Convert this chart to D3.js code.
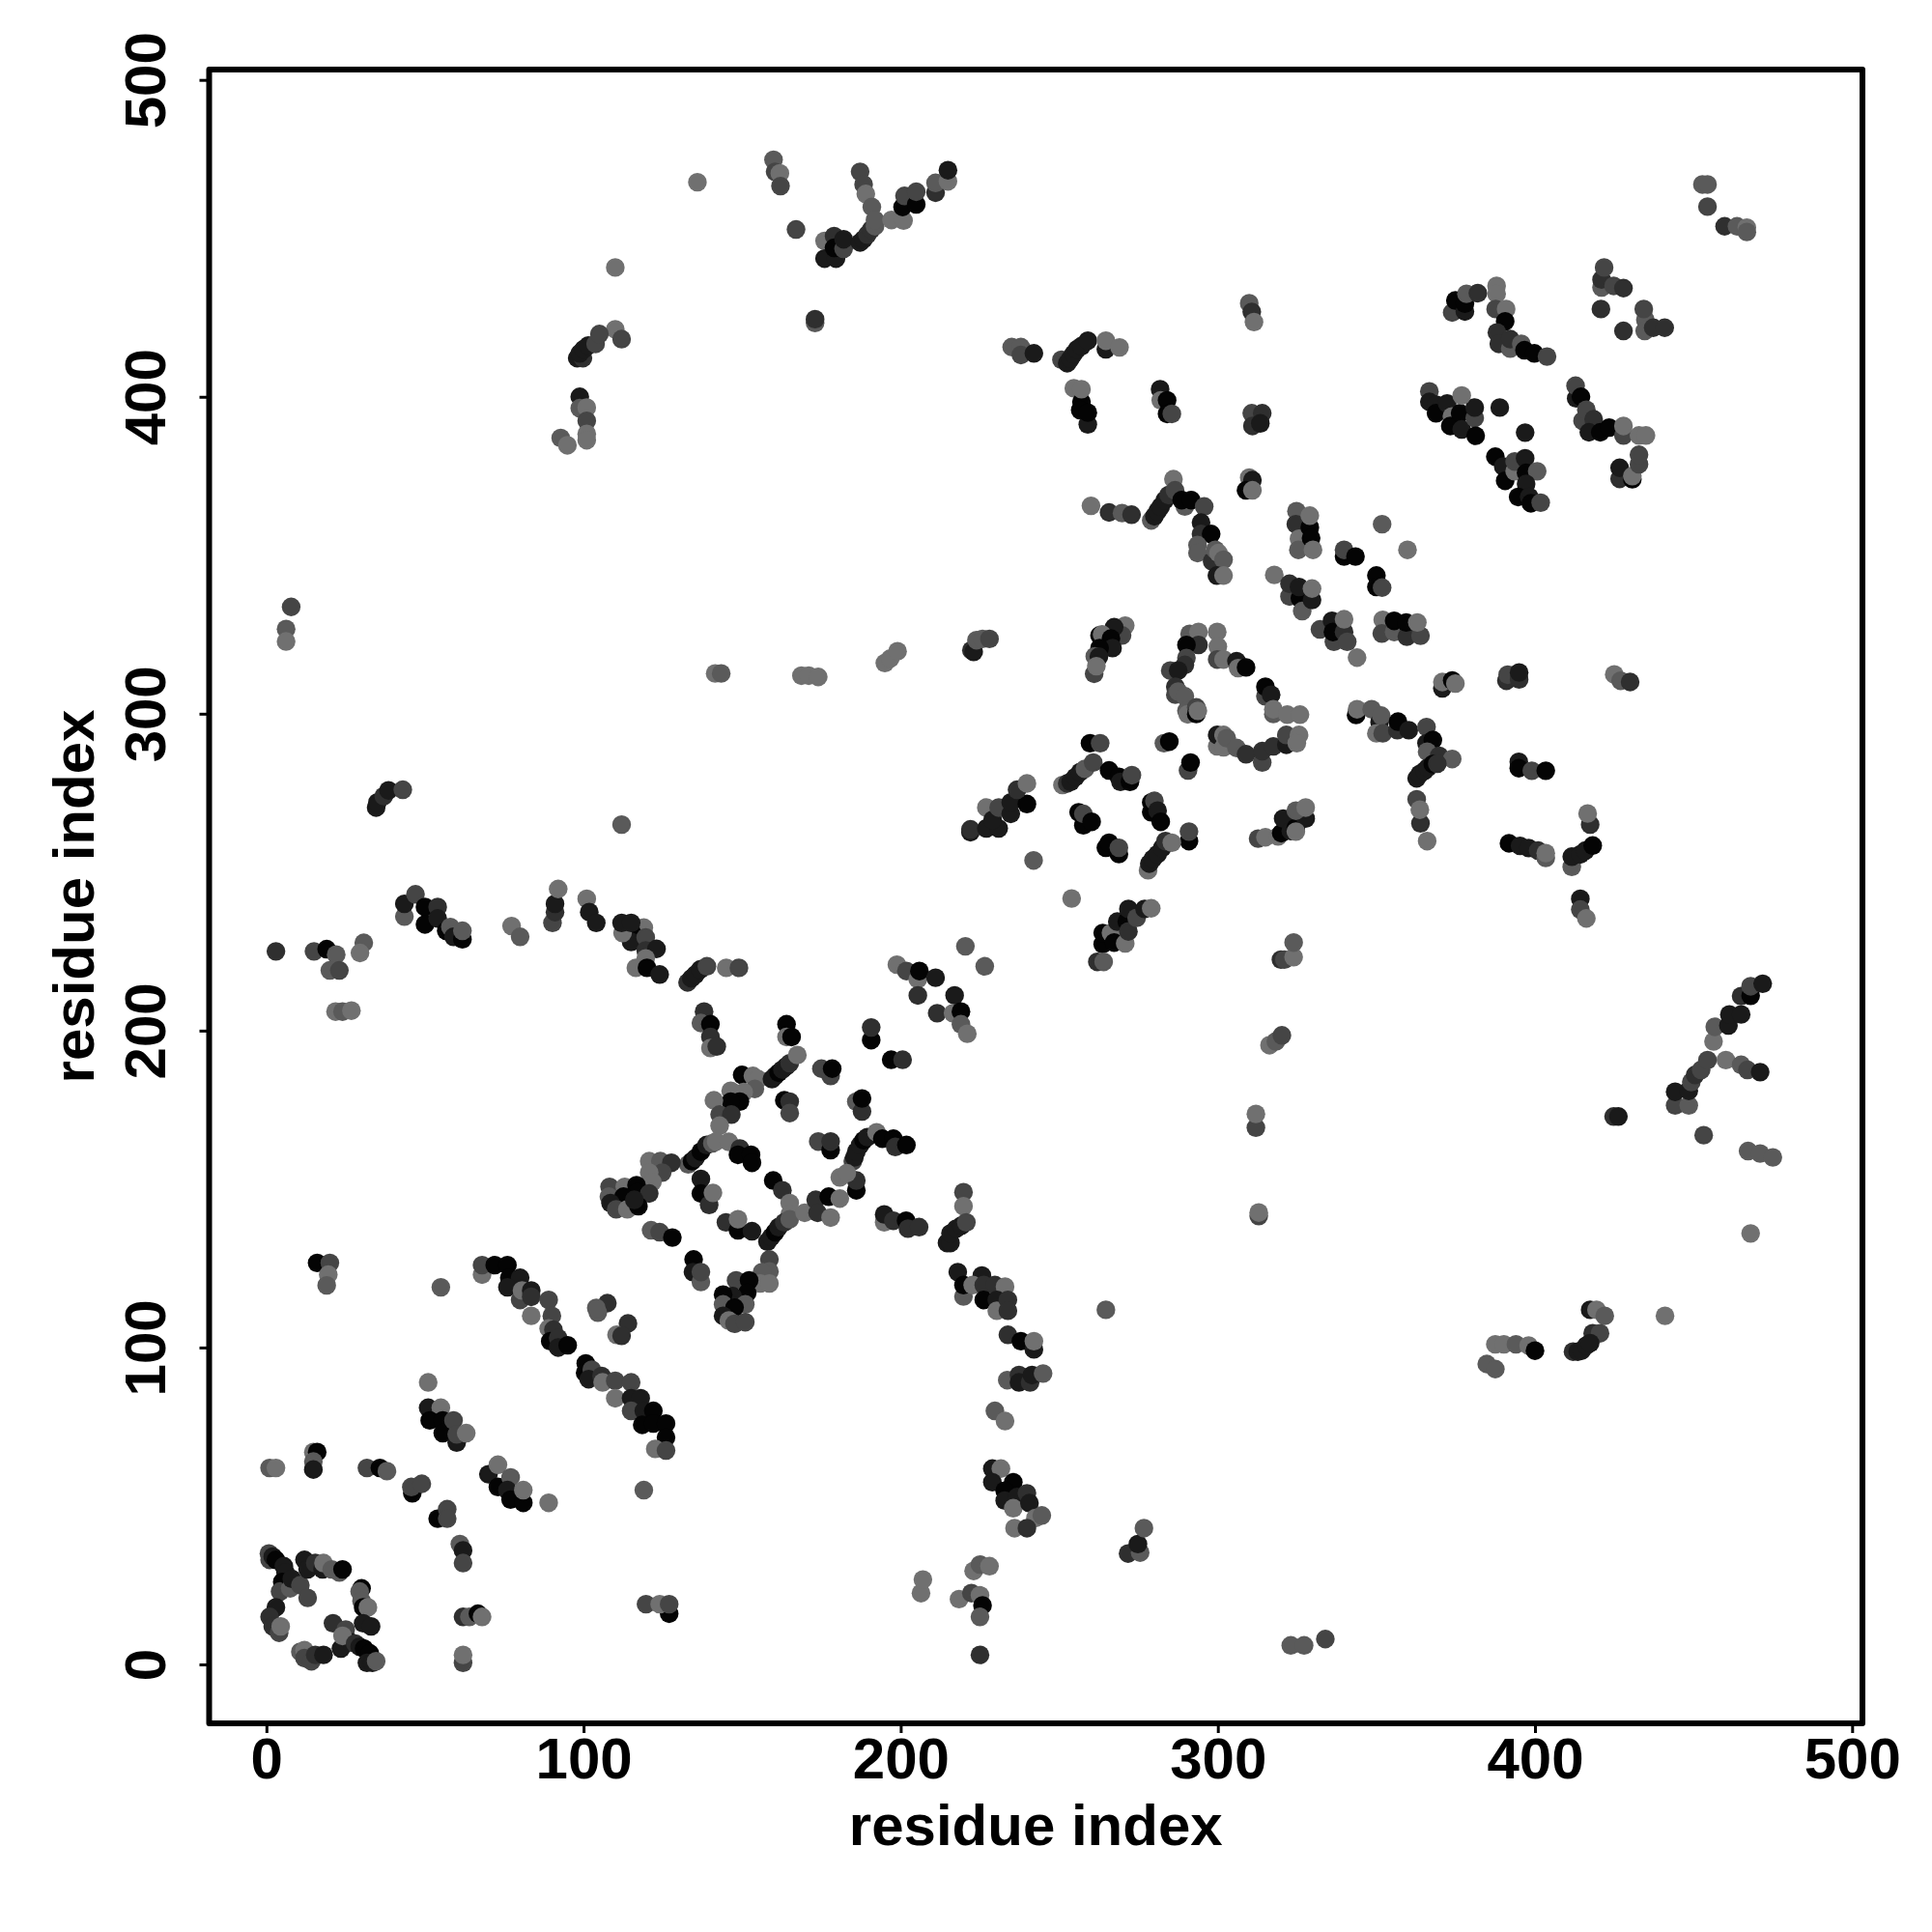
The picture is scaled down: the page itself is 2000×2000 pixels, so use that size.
<!DOCTYPE html>
<html><head><meta charset="utf-8">
<script src="https://cdn.jsdelivr.net/npm/d3@7"></script>
<style>html,body{margin:0;background:#fff}</style></head><body><div id="chart"></div>
<script>
// each contact: [residue index x, residue index y, shade level 0 (darkest) .. 5 (lightest)]
const ticks=[0,100,200,300,400,500];
const xTitle="residue index", yTitle="residue index";
const contactsLowerLeft=[
[0.8,35,3],[1,33,3],[2,34,1],[3,33,0],[5.5,31,1],[6,29,1],[5,26,0],[4.3,23,3],[7.8,26,0],[7.5,24,4],[8,27,1],[10.7,25,3],[13,21,3],
[12,33,1],[13,30,1],[15.4,32,2],[17.7,30,1],[18,32,5],[20.6,30,4],[23,29,4],[24,30,0],
[30,24,0],[29.4,23,4],[30,20,4],[30.5,18,0],[32,18,5],[30.5,13,1],[33,12,1],[21,13,2],
[25,11,3],[23.5,5,1],[26.5,7,1],[24,9,5],[28,6.6,2],[29.4,5.6,1],[30.8,5,0],[32.6,3.5,0],[31.7,0.5,1],[33.4,0.5,1],[34.6,1,4],
[3,18,1],[1,15,2],[2,12,2],[4,10,3],[4.5,12,5],
[10.7,4,4],[12,4.5,5],[12,2,3],[14.2,1,3],[15.4,3,2],[18,3,1],
[14.8,67,5],[16,67,0],[14.8,64,4],[14.8,61.5,1],[1,62,4],[3,62,5],
[31.7,62,3],[35.8,62,0],[38,61,4],[46,54,0],[45.7,56,3],[49,57,3],[54,46,0],[57,49,3],[57,46,3],
[61,38,4],[62,36,1],[62,32,3],[62,15,2],[64,15,4],[66.7,16,0],[68,15,5],[62,0.5,3],[62,3,5],
[127,16,0],[119.7,19,3],[124,19,5],[127,19,3],[119,55,4],[89,51,5],
[51,89,5],[51,81,1],[55,81,5],[51.5,77,0],[55.6,77,0],[55.6,73,0],[59,77,3],[60,70,1],[60,72.6,3],[63,73,5],
[70,60,1],[73,63,5],[73,56,0],[77,59,4],[76,55,1],[77,52,0],[81,51,0],[81,55,5],
[16,126.7,0],[20,126.7,3],[19.5,123,5],[19,119.6,4],[55,119,4]];
const contactsLongDiagonal=[
[68,123,5],[68,126,3],[72,126,0],[76,126,0],[76.6,122,0],[80,122,1],[76,119,1],[80,115,3],[80.6,118,5],[83.5,118,1],[83.5,116,2],[83.5,110,5],[89,115,3],[90,110,3],[89,106,5],[90.5,105.6,2],[89.5,102,0],[92,103,2],[92,100,1],[95,100.7,0],
[100.7,95,0],[100.5,92,0],[102.6,93,3],[101.6,90,1],[105.7,91,2],[106,89,5],[110,89.5,3],[115,89,3],[110,84,5],[115,84,1],[118,84,1],[115,80,3],[119,80,1],[122,80,0],[118.5,75.6,0],[122,76,0],[126,76,0],[126,71.6,0],[122.6,68,5],[126,67.5,3],
[107.5,114,2],[104.5,111,4],[104,112.5,4],[114,107.6,2],[110.4,104,5],[112,103.7,2]];
const contactsDiamond=[
[138,206,2],[137,202.4,4],[140,202,0],[140,198,2],[140,194.5,5],[142,195,2],[164,202,0],[164,198,5],[165.6,198,0],
[150,186,0],[153.4,185.7,5],[155,184.7,5],[154,181.6,4],[159.4,184.7,1],[160.4,185.7,1],[161.5,186.7,0],[162.7,187.7,1],[163.9,188.7,1],[165,189.7,2],[167.4,192.3,5],
[150.5,180.6,5],[146.4,181,5],[149.3,177.6,0],[146.4,177.6,0],[141.1,178,5],[142.9,173.5,3],[146.6,173.5,2],[142.9,170,5],
[175,188,3],[177.9,185.7,3],[178.4,188,0],[163.3,178,0],[165,177.6,2],[165,174,3],[190.7,197,0],[190.7,201,2],[197,190.8,0],[200.6,190.8,2],[186,177.6,4],[187.8,174.5,2],[187.8,178.6,0],[174,165,3],[177.9,162.3,0],[177.9,165,2],
[184.9,158.8,3],[185.4,160,1],[186,161.8,1],[187.2,163.9,1],[188.3,165.4,0],[189.5,166.4,1],[192.4,167.9,5],[194.2,165.9,0],[197.7,165.9,0],[198.3,163.3,2],[201.8,163.9,0],
[133,157.8,4],[134.2,158.8,0],[135.3,159.8,1],[137,161.8,0],[138.8,163.9,1],[140.6,164.4,4],[141.8,165,5],[145.8,164.9,5],[149.3,162.8,2],[148.7,160.8,0],[152.8,160.8,0],[153.1,158.3,0],
[120.7,158.8,5],[124.2,158.8,4],[127.7,158.3,2],[124.8,155.2,3],[120.7,155.2,5],[121.7,152.2,5],
[108.2,150.7,3],[108,147.6,4],[113,150.7,5],[116.7,151.2,0],[117,149,0],[112.6,147.6,0],[120.7,148.6,2],[108.5,145.6,1],[110.3,143.6,3],[113.8,143.6,5],[117.3,144.6,0],[116,146.6,1],
[137,153.2,1],[137,148.6,0],[139.6,145,2],[140.8,148.8,5],[159.8,152.7,0],[162.7,149.6,2],[165,145.6,5],[165,142,5],
[158,133.4,1],[159.2,134.9,1],[160.4,136.4,0],[161.5,138,1],[163.3,139.5,2],[165,140.5,4],[169.7,142.5,5],[173.2,146.6,2],[173.8,142.5,2],[177.3,147.6,0],[177.9,141,5],[180.8,147,5],[186,149.6,0],[186,152.7,2],[180.8,153.7,5],[183,155,5],
[194.8,139.5,5],[194.8,142,1],[197.7,140,2],[201.7,140,0],[202.3,137.5,2],[205.8,138,2],
[144.9,139.5,2],[148.7,137,0],[153.1,136.7,1],[148.7,140.5,5],[121.3,137,4],[124,136.4,3],[128,134.7,0],[134.7,127.8,0],[134.5,123.8,1],[137,120.7,4],[137,123.8,3],
[158.6,127.8,3],[158.6,124,4],[156.3,123.8,4],[155.7,120.2,5],[158.6,120.2,5],[148.1,121.2,3],[152.2,121.2,0],[151.6,117.2,0],[147,116.2,1],[144,116.7,0],[151,113.6,4],[144,113.6,4],[147.6,112.6,0],[144,110,1],[145.8,108.5,5],[147.6,107.5,3],[151,108,3],
[219.8,149,3],[219.8,144.6,5],[214.6,133,1],[215.7,133,1],[215.7,136,1],[217.5,137.5,1],[219.2,138.5,1],[220.7,139.5,3],
[218,123.8,1],[219.8,116.1,4],[219.8,119.7,0],[225.6,122.7,1],[222.7,119.7,5],[226.2,119.7,2],[229.7,119.7,2],[232.9,119.2,5],[226.2,115,0],[230.3,115,1],[230.3,111.6,5],[233.8,115,2],[233.8,111.6,2],
[233.8,104,2],[237.9,102,0],[242,99.4,1],[242,102,5],[233.6,89.7,4],[237.3,91.3,2],[237.3,89,1],[240.8,89,2],[241.4,91.3,1],[244.9,91.8,4],[229.7,80,4],[232.9,76.8,5]];
const contactsBandAt220=[
[119,232.5,5],[115.5,230.4,0],[115,228,1],[119.6,229.4,3],[119.6,225.3,2],[123,225.8,1],[119.6,222.8,5],[116.5,219.8,5],[120,219.8,0],[124,217.7,1],
[132.8,215.2,2],[134,216.5,1],[135.3,217.7,1],[136.8,219.3,1],[138.9,220.3,3],[145,219.8,5],[149,219.8,3],
[198.8,220.8,5],[201.8,218.8,3],[205.4,216.2,5],[205.9,218.8,0],[211,216.7,1],[205.4,211.1,2],[217,211.1,1],[211.5,205.5,2],[216.5,205.5,5],[219,206,0],[219,202,4],[221,199,5],[220.4,226.6,4],[226.5,220.3,4],
[3,225,2],[15,225,3],[19,225.7,0],[22,224,4],[20,219,4],[23,219,3],[30.7,227.7,4],[29.5,224.5,5],[21.8,206,5],[24,206,4],[26.8,206.3,5],
[43.5,236,4],[43.5,240,1],[47,243,3],[50,239,0],[50,233.5,0],[54,239,2],[54,235.4,1],[56.7,231.5,0],[58,232.7,4],[59,229.6,1],[61.8,228.8,0],[61.8,231.5,4],
[77.3,233,5],[80,229.6,4],[90.2,234,3],[91,237.4,2],[91,240,1],[92,244.7,5],[101,241.6,5],[101.8,237.4,1],[104,234,1],[112.3,230.8,5],[112,234,1],[115,234,1],
[7.8,333.7,3],[6.2,326.7,4],[6.2,322.8,5],[34.6,270.4,1],[35,272,1],[37,274,2],[38.5,275.8,1],[43,276,3],[112,265,4],
[141.5,312.7,5],[143.4,312.7,4],[168.7,312,5],[171,312,5],[174,311.6,5],[195,316,5],[196.7,317.4,5],[199,319.7,5],[222.3,320,2],[223,319.5,1],[223.9,323.2,4],[225.8,323.6,4],[228,323.6,3]];
const contactsTop=[
[135.9,467.7,5],[159.9,474.8,4],[160.4,471,3],[161.9,470.5,5],[162.1,466.5,3],[167,452.8,3],[173,423.3,4],[173,424.5,2],
[176,449.2,5],[176,443.6,1],[179,450.7,2],[179.6,443.6,1],[179,447,0],[182,446.7,3],[182,449.7,1],
[187.2,471,3],[188.3,467,3],[189,464,5],[190.9,459.9,4],[187.2,448.7,1],[188.3,449.7,1],[189.5,451.2,2],[190.7,452.8,2],[191.9,453.8,4],[191.9,455.8,4],
[197.1,455.8,5],[200.9,455.6,5],[200.6,459.9,0],[201.2,463.4,3],[204.9,460.7,0],[204.9,464.7,3],[211,464.4,2],[211,467.5,4],[214.9,468,5],[214.9,471.5,1],
[110,440.8,5],[110,421.3,5],[112,418.2,3],[98,412.2,1],[99.8,412.2,2],[98.8,413.7,1],[100,415,1],[101.5,416.2,1],[103.8,416.7,3],[105,419.8,3],
[98.8,400,1],[98.8,396.4,4],[101,396.6,5],[101,392.4,3],[101,388.3,5],[101,386.3,5],[92.8,387,4],[94.9,384.7,5],
[235,415.7,4],[237.9,415.7,4],[237.9,413.2,3],[242,413.7,1],[250.7,411.7,3],[452.8,467,4],[454.4,467,4],[454.4,460,3],[459.8,453.8,2],[463.7,453.8,4],[466.8,453.4,5],[466.8,452,4]];
const contactsUpperMiddle=[
[252.5,410.6,1],[253.5,412,1],[254.5,413.5,1],[255.6,415,1],[257,416,1],[259,417.7,1],[264.7,415,1],[264.7,417.7,5],[269,415.6,5],
[254.6,402.7,5],[257,398.4,0],[256.6,395.8,0],[259,391.3,1],[259,395,0],[257,402.4,5],[281.8,402.4,1],[282,398.9,5],[284,398.9,0],[284,394.6,0],[285.5,394.6,3],
[309.9,429.5,4],[310.7,426.8,2],[311.4,423.6,5],[310.7,394.8,3],[310.9,390.8,2],[314,394.8,2],[313.4,391.6,1],[309.9,374.5,5],[310.9,373.7,1],[308.9,370.5,0],[310.9,370.5,5],
[260,365.6,5],[265.7,363.5,2],[269.8,363.3,4],[272.8,362.8,2],
[279,361,4],[280,362.3,1],[281,363.9,1],[282,365.4,1],[283.3,367.4,1],[284.5,369,2],[286,374,5],[286.5,370.5,3],[289.6,365.4,4],[288.6,367.4,0],[291.6,367.4,0],[295.7,365.4,3],[294.7,360.3,1],[294.7,356.7,2],[297.9,356.7,0],[293.6,353.2,4],[293.6,350.7,4],[298.2,348.1,2],[299.2,351.7,4],[300.2,350.7,5],[301.8,348.6,4],[299.7,343.6,1],[301.8,343.6,5],
[324.8,363.9,4],[324.6,359.8,2],[325.6,355.2,5],[325.4,351.7,4],[329,358.8,0],[329.4,355.4,0],[330,351.7,5],[329,362.5,5],
[339.8,349.6,0],[339.8,351.7,3],[343.4,349.6,0],[351.8,359.8,4],[359.8,351.7,5],[350,343.6,0],[350,340,0],[351.8,339.8,3],
[317.8,343.8,5],[322.6,337,3],[322.6,341,2],[325.9,336.4,0],[325.6,340,1],[326.6,332.4,4],[329.7,335.9,1],[329.7,339.5,5],
[332.2,326.6,3],[336.6,322.7,3],[336,329.3,1],[336.3,325.8,0],[339.8,325.8,2],[340.8,322.7,3],[339.8,329.8,5],[343.9,317.7,5],
[352,329.6,5],[351.7,325.3,3],[355.6,325.8,4],[355.6,329.3,0],[359.6,324.3,2],[359.4,328.8,0],[363.9,324.6,3],[362.9,328.8,5]];
const contactsUpperRight=[
[366.7,401.7,3],[366.7,398.4,1],[368.8,397.5,1],[368.8,394.8,0],[372.3,397.9,1],[373.8,393.8,5],[373.3,390.8,0],[376.4,394.8,0],[376.9,389.7,1],[381,393.3,3],[381,396.6,1],[376.9,400.4,5],[381.3,387.7,0],[388.9,396.6,1],[396.9,388.7,1],
[387.5,381.1,0],[390,378,1],[390.6,373.5,0],[393.6,376.5,5],[393.6,379.6,3],[396.9,380.6,1],[397.2,376,0],[400.7,376.5,4],[397.2,372.5,1],[394.7,368.4,0],[398.2,368.4,1],[398.7,366.4,0],[401.8,366.6,3],
[373.9,426.6,3],[374.9,430.4,0],[377.9,426.9,1],[377.9,429.4,0],[378.4,432.5,4],[382,432.7,2],[387.9,435,5],[387.9,432.5,5],[387.6,427.7,3],[390.9,427.7,5],[390.6,423.8,0],[388,420.3,2],[388.6,416.7,2],[392.2,415.2,4],[392.2,418.2,2],[395.7,416.7,4],[396.7,414.7,0],[399.8,413.7,0],[403.8,412.7,3],
[421,434.5,4],[421,437,2],[421.8,440.8,3],[424.8,435,3],[427.9,434.3,2],[420.8,427.7,2],[434.8,424.3,4],[434.3,427.7,3],[427.9,420.8,2],[434.6,420.8,4],[437.3,421.8,2],[440.9,421.8,2],
[413,399.5,1],[412.8,403.5,3],[414.5,400,0],[415,392.4,3],[416.2,395.9,3],[418.5,392.9,2],[417,388.8,1],[420.6,388.8,0],[423.4,390.3,0],[427.9,387.8,3],[427.9,390.8,5],[432.8,387.8,5],[435,387.8,5],
[426.7,374.1,2],[426.7,377.6,1],[430.7,374,0],[430.7,375,5],[432.8,378.7,3],[432.8,381.7,3]];
const contactsCenter=[
[270.8,327.8,5],[269.8,324.7,3],[267.3,327.3,1],[262.7,324.7,0],[263.5,325,5],[266.3,323.7,0],[266.8,320.7,1],[262.7,320.7,0],[261.2,318.1,4],[262.5,318,1],[261,312.6,3],[261.7,315,5],
[291.1,325.2,4],[293.9,325.8,5],[293.9,321.7,2],[290.1,321.7,0],[290.1,317.6,3],[289.6,315.4,2],[285,313.6,3],[287.5,313.6,1],
[299.8,325.8,5],[300,321.2,5],[299.8,317.1,3],[301.8,317.1,5],[305.9,316.6,1],[306.4,314.4,5],[308.9,314.6,0],
[315,305.5,3],[315,308.5,0],[316.8,306,1],[317.5,299.9,4],[317.5,301.4,5],[321.9,299.7,5],[325.9,299.7,5],
[286.6,308.5,2],[286.6,306,3],[287.5,307,4],[289.6,305.5,4],[290.1,300.9,4],[290.5,299.8,5],[293.2,302,3],[293.2,299.9,0],[293.7,300.9,5],
[299.8,289.7,5],[299.8,293.3,1],[301.8,289.4,5],[301.8,293.3,5],[302.8,292.3,4],[305.9,289.2,4],[314,284.6,3],[308.9,287.2,2],[314,288.2,2],[317.5,289.7,2],[321.6,290.2,1],[321.6,293.3,3],[325.6,293.3,5],[324.9,290.7,5],
[283,290.7,4],[284.7,291.2,0],[290.6,282.1,3],[291.4,284.6,0],[259.7,290.7,0],[262.9,290.7,3],
[251,277.5,5],[252.5,278,2],[253.6,278.5,1],[255.1,280,1],[256.6,281.6,1],[258.1,282.6,4],[260.7,284.6,3],[265.7,282.1,0],[268.8,280.1,0],[269.3,278.5,1],[272.3,278.5,0],[272.9,280.6,3],
[222,262.6,1],[222,263.5,2],[227,263.8,1],[227,270.4,5],[230.9,263.8,1],[229,266.5,1],[230.9,270.4,3],[234.7,268.4,1],[234.7,272,1],[239.8,271.5,0],[236.7,276,2],[239.8,278,5],
[256.1,268.9,0],[257.6,264.8,0],[257.6,268.4,3],[260.2,265.9,0],[279,268.9,0],[279,272,0],[280,272.5,3],[281,269.4,1],[282,265.9,0],[264.7,257.7,0],[265.7,259.3,0],[268.8,255.7,0],[268.8,257.7,3],
[290.9,259.8,0],[290.9,262.8,3],[278,250.6,5],[278.4,252.7,1],[279.5,254.2,1],[281,255.7,1],[282.5,257.7,1],[283.5,259.8,2],[285.5,259.3,5],
[241.9,253.7,4],[253.9,241.7,5],[263.7,227.3,0],[263.7,230.8,0],[266.3,230.8,5],[267.3,227.8,0],[262,221.7,2],[264,221.7,4],[268.3,234.4,1],[270.8,227.5,5],[271.3,234.4,0],[271.8,231.3,2],[271.8,238.4,1],[274.4,235.6,3],[276.9,238.4,1],[279,238.6,5],
[319.9,222.4,2],[321,222.4,3],[323.9,223.2,5],[323.9,227.8,4],
[312.7,260.6,3],[315,261,5],[319,261.3,5],[320,262.3,0],[320.6,266.9,1],[323,263,1],[324.6,264,0],[327.7,266.9,1],[324.6,262.8,5],[324.6,269.4,4],[327.7,270.4,5]];
const contactsRightColumn=[
[343.6,299.6,0],[343.9,301.4,5],[348.5,301.4,4],[351,297.3,1],[351.5,299.4,4],[350,293.8,5],[352,293.8,3],[356.6,294.8,2],[356.8,297.5,0],[360.2,294.8,1],[365.8,295.8,3],[365.8,290.7,1],[367.8,291.7,0],[366,288,4],[369.8,286.7,2],[373.9,285.7,4],
[362.7,279.6,1],[363.7,281,1],[365.2,282,1],[366.2,283,1],[367.8,284.1,0],[369.2,284.2,2],[363.9,265.4,2],[362.7,273,3],[363.7,269.7,5],[366,259.8,5],
[370.8,308,1],[370.8,310,5],[373.9,310.5,0],[374.9,309.5,5],
[391,310.4,2],[391.4,312.3,3],[395,310.8,2],[395,313,1],[394.9,284.8,1],[394.9,282.8,0],[399,282,3],[403.4,282,0],[425,312.4,5],[427,310.4,4],[430,310,2],
[391.8,259.1,0],[395.3,258.3,1],[398,257.6,1],[401,256.8,2],[403.4,254.5,4],[403.4,256,5],
[411.6,251.7,4],[411.6,254.9,1],[414.3,255.6,1],[415.9,256.8,1],[418.2,258.4,0],[417.4,265,2],[416.6,268.5,5],[414.3,241.6,1],[414.3,238.2,3],[416.2,235.4,5]];
const contactsFarRight=[
[316.3,195.4,5],[318.3,196.6,4],[320.2,198.5,3],[312,169.4,3],[312,173.7,5],[312.9,141.5,3],[312.9,142.6,5],[424.8,172.9,2],[426.3,172.9,1],[453.2,167,3],
[444.2,176.4,3],[444.2,180.7,1],[448.5,176.4,4],[448.5,181,1],[449.3,183.8,3],[450.5,186,2],[452.4,187.6,3],[454.4,190.7,3],[456.3,196.6,5],[456.7,201.2,4],[461,201.6,1],[461.3,205.1,1],[465,205.1,1],[465,210.9,2],[468,211,0],[468,214,3],[471.8,214.8,1],
[460.2,190.7,5],[465,189.2,4],[467,187.6,3],[471,186.9,1],[467.2,162,4],[471,161.2,4],[475,160,4],[468,136,5],[441,110,5],
[417.4,111.9,1],[419.4,111.9,5],[422,110,4],[418.2,104.5,2],[420.5,104.5,3],[412,98.7,2],[413.5,98.7,1],[414.7,99,1],[416.2,100.6,1],[417.4,101.4,1],
[384.8,94.8,4],[387.5,93.2,4],[387.5,101,5],[390.2,101,5],[394,101,4],[398,100.6,5],[400,99,0]];
const contactsLowerMiddle=[
[264.7,111.9,4],[271.7,35,2],[275.5,35.3,4],[274.8,38,1],[276.7,43,4],[206.4,22.5,5],[207,26.8,5],
[218.4,20.6,5],[223,29.5,5],[225,31.5,4],[228,31,5],[222.3,22.5,3],[225,21.8,5],[225.8,18.6,0],[225,15,4],[225,3,2],
[323,6,4],[327.2,6,4],[333.9,8,3],
[228.9,61.8,1],[231.6,61.8,5],[228.9,57.5,1],[235.5,57.5,0],[232.8,54.8,0],[232.8,51.7,1],[236.7,52.8,1],[239.8,54,2],[235.5,49.3,5],[240.6,50.9,1],[242.5,46.2,5],[244.5,47,4],[235.9,43,5],[239.8,43,2]];

const contacts=[...contactsLowerLeft,...contactsLongDiagonal,...contactsDiamond,...contactsBandAt220,...contactsTop,...contactsUpperMiddle,...contactsUpperRight,...contactsCenter,...contactsRightColumn,...contactsFarRight,...contactsLowerMiddle];

const W=2000,H=2000;
const frame={l:216.5,r:1928,t:72,b:1784};
const x=d3.scaleLinear([0,500],[275.8,1917.3]);
const y=d3.scaleLinear([0,500],[1723,82.7]);
const shade=d3.scaleLinear([0,5],[4,112]);
const font="'Liberation Sans',Arial,sans-serif";
const svg=d3.select("#chart").append("svg").attr("width",W).attr("height",H).style("display","block");
svg.append("rect").attr("width",W).attr("height",H).attr("fill","#fff");
svg.append("g").selectAll("circle").data(contacts).join("circle")
 .attr("cx",d=>x(d[0])).attr("cy",d=>y(d[1])).attr("r",9.7)
 .attr("fill",d=>{const g=Math.round(shade(d[2]));return d3.rgb(g,g,g).formatHex();});
svg.append("rect").attr("x",frame.l).attr("y",frame.t).attr("width",frame.r-frame.l).attr("height",frame.b-frame.t)
 .attr("fill","none").attr("stroke","#000").attr("stroke-width",6).attr("stroke-linejoin","round");
const xa=svg.append("g").attr("transform",`translate(0,${frame.b})`)
 .call(d3.axisBottom(x).tickValues(ticks).tickFormat(d3.format("d")).tickSize(10).tickPadding(0));
xa.select(".domain").remove();
xa.selectAll("line").attr("stroke","#000").attr("stroke-width",3);
xa.selectAll("text").attr("y",57).attr("dy",0).attr("font-family",font).attr("font-weight","bold").attr("font-size",60).attr("fill","#000");
const ya=svg.append("g").attr("transform",`translate(${frame.l},0)`)
 .call(d3.axisLeft(y).tickValues(ticks).tickFormat(d3.format("d")).tickSize(10).tickPadding(0));
ya.select(".domain").remove();
ya.selectAll("line").attr("stroke","#000").attr("stroke-width",3);
ya.selectAll("text").attr("x",0).attr("dy",0).attr("transform","translate(-46,0) rotate(-90)").attr("text-anchor","middle").attr("font-family",font).attr("font-weight","bold").attr("font-size",60).attr("fill","#000");
svg.append("text").attr("x",(frame.l+frame.r)/2).attr("y",1910).attr("text-anchor","middle").attr("font-family",font).attr("font-weight","bold").attr("font-size",60).text(xTitle);
svg.append("text").attr("transform",`translate(97,${(frame.t+frame.b)/2}) rotate(-90)`).attr("text-anchor","middle").attr("font-family",font).attr("font-weight","bold").attr("font-size",60).text(yTitle);
</script></body></html>
